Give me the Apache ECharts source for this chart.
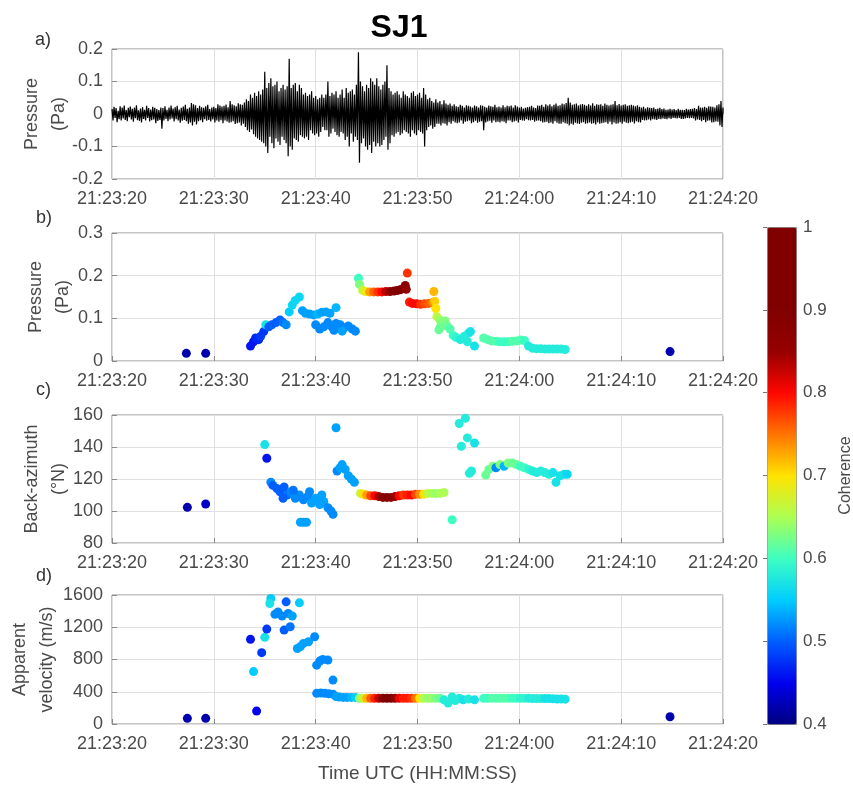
<!DOCTYPE html>
<html><head><meta charset="utf-8">
<script src="https://cdn.jsdelivr.net/npm/echarts@6/dist/echarts.min.js"></script>
<style>html,body{margin:0;padding:0;background:#fff}#c{width:853px;height:787px}</style>
</head><body><div id="c"></div>
<script>
// ---- tick labels (seconds after 21:23:20) ----
const timeTickLabels = ['21:23:20','21:23:30','21:23:40','21:23:50','21:24:00','21:24:10','21:24:20'];
const colorbarTicks = [0.4,0.5,0.6,0.7,0.8,0.9,1];

// ---- panel a: pressure waveform (Pa), sampled every 0.1 s from 21:23:20 ----
const waveStart = 0;
const waveInterval = 0.1;
const pressureWave = [
.015,-.02,.022,-.012,.018,-.025,.01,-.016,.024,-.02,
.02,-.014,.026,-.018,.012,-.022,.019,-.01,.023,-.017,
.016,-.024,.02,-.013,.027,-.019,.011,-.021,.017,-.026,
.021,-.015,.013,-.02,.025,-.012,.018,-.023,.014,-.019,
.022,-.017,.019,-.028,.015,-.021,.012,-.018,.02,-.045,
.018,-.02,.024,-.015,.013,-.022,.02,-.017,.026,-.014,
.017,-.023,.021,-.016,.025,-.02,.014,-.027,.019,-.021,
.023,-.018,.028,-.022,.016,-.03,.02,-.026,.034,-.035,
.03,-.024,.027,-.032,.018,-.022,.025,-.019,.021,-.025,
.019,-.016,.024,-.021,.028,-.018,.015,-.023,.02,-.017,
.022,-.026,.018,-.02,.03,-.024,.026,-.019,.023,-.028,
.025,-.02,.029,-.023,.021,-.027,.04,-.025,.03,-.022,
.027,-.031,.024,-.028,.033,-.026,.03,-.035,.028,-.03,
.035,-.04,.045,-.05,.04,-.055,.06,-.048,.05,-.062,
.065,-.07,.055,-.075,.07,-.08,.06,-.085,.075,-.09,
.13,-.1,.08,-.12,.095,-.07,.11,-.09,.085,-.105,
.09,-.075,.1,-.085,.07,-.095,.08,-.07,.09,-.08,
.075,-.09,.085,-.13,.17,-.1,.08,-.11,.09,-.075,
.095,-.08,.07,-.085,.09,-.065,.08,-.07,.06,-.075,
.065,-.07,.055,-.08,.06,-.05,.07,-.06,.05,-.065,
.055,-.06,.045,-.07,.05,-.055,.06,-.04,.05,-.05,
.06,-.05,.1,-.07,.055,-.06,.065,-.045,.06,-.055,
.07,-.065,.05,-.07,.06,-.055,.075,-.06,.05,-.08,
.08,-.07,.065,-.1,.07,-.06,.075,-.085,.06,-.07,
.09,-.08,.19,-.15,.1,-.09,.085,-.075,.07,-.1,
.09,-.11,.08,-.095,.11,-.12,.1,-.085,.09,-.1,
.11,-.09,.085,-.1,.075,-.095,.09,-.08,.1,-.07,
.15,-.11,.08,-.09,.07,-.065,.06,-.07,.065,-.06,
.07,-.055,.06,-.065,.05,-.06,.07,-.05,.06,-.055,
.055,-.06,.05,-.07,.065,-.05,.07,-.06,.055,-.065,
.06,-.05,.065,-.055,.05,-.06,.08,-.1,.06,-.05,
.045,-.04,.05,-.035,.04,-.045,.035,-.04,.045,-.03,
.035,-.03,.04,-.035,.03,-.028,.042,-.03,.032,-.035,
.028,-.025,.032,-.03,.025,-.022,.03,-.026,.024,-.028,
.022,-.026,.028,-.02,.025,-.03,.02,-.024,.027,-.022,
.025,-.02,.023,-.028,.02,-.025,.026,-.021,.024,-.027,
.02,-.024,.027,-.022,.025,-.05,.022,-.026,.02,-.023,
.026,-.021,.024,-.027,.022,-.02,.028,-.025,.021,-.024,
.023,-.026,.02,-.022,.027,-.024,.021,-.028,.025,-.02,
.024,-.02,.026,-.025,.02,-.023,.027,-.021,.023,-.026,
.02,-.018,.022,-.02,.017,-.021,.019,-.016,.021,-.019,
.022,-.02,.025,-.018,.02,-.024,.018,-.021,.026,-.02,
.025,-.022,.028,-.026,.022,-.025,.03,-.024,.026,-.028,
.03,-.026,.024,-.03,.028,-.022,.032,-.027,.025,-.03,
.027,-.03,.032,-.025,.03,-.028,.034,-.03,.05,-.035,
.035,-.03,.028,-.033,.03,-.027,.032,-.029,.026,-.031,
.029,-.027,.031,-.025,.028,-.03,.025,-.028,.03,-.026,
.026,-.03,.033,-.028,.025,-.032,.03,-.026,.028,-.03,
.03,-.028,.025,-.027,.032,-.025,.028,-.03,.026,-.024,
.028,-.032,.03,-.026,.04,-.03,.027,-.029,.031,-.025,
.026,-.03,.028,-.024,.03,-.027,.025,-.028,.027,-.026,
.028,-.024,.026,-.029,.024,-.022,.027,-.025,.022,-.026,
.02,-.018,.022,-.02,.017,-.019,.021,-.017,.019,-.02,
.018,-.016,.02,-.017,.015,-.018,.017,-.015,.019,-.016,
.015,-.014,.017,-.015,.013,-.016,.014,-.013,.016,-.015,
.014,-.012,.015,-.013,.012,-.014,.016,-.012,.013,-.015,
.013,-.015,.012,-.014,.016,-.012,.014,-.013,.015,-.012,
.016,-.014,.018,-.02,.015,-.017,.025,-.018,.02,-.022,
.02,-.018,.022,-.025,.019,-.021,.024,-.02,.023,-.026,
.022,-.025,.02,-.023,.027,-.024,.03,-.035,.04,-.04,
.02
];

// ---- panel b: [time s, pressure Pa, coherence] ----
const pressurePoints = [
[7.3,.018,.42],[9.2,.018,.42],
[13.6,.035,.46],[13.9,.045,.46],[14.1,.054,.47],[14.4,.05,.47],[14.6,.058,.48],[14.9,.069,.48],[15.1,.085,.57],[15.4,.08,.5],[15.7,.085,.5],[16.1,.09,.5],[16.5,.096,.5],[16.8,.09,.51],[17.1,.085,.52],[17.4,.115,.55],[17.7,.131,.56],[18.0,.142,.56],[18.4,.15,.56],
[18.7,.118,.53],[19.0,.112,.53],[19.4,.11,.53],[19.8,.108,.53],[20.2,.11,.54],[20.6,.114,.53],[21.0,.115,.53],[21.4,.112,.53],[22.0,.125,.54],
[20.0,.085,.52],[20.4,.075,.52],[20.8,.08,.52],[21.2,.09,.52],[21.6,.08,.52],[22.0,.088,.52],[22.4,.085,.52],[22.8,.078,.52],[23.2,.082,.52],[23.6,.075,.52],[23.9,.07,.52],[21.8,.072,.52],[22.6,.07,.53],
[24.2,.194,.6],[24.3,.18,.63],[24.6,.166,.66],[24.9,.163,.69],[25.3,.162,.73],[25.7,.162,.76],[26.1,.162,.78],[26.5,.162,.8],[26.9,.163,.83],[27.3,.163,.86],[27.7,.164,.9],[28.0,.165,.93],[28.3,.167,.93],[28.6,.17,.9],[28.8,.177,.88],[28.9,.168,.86],[29.0,.206,.78],
[29.2,.138,.79],[29.5,.135,.8],[29.9,.134,.8],[30.3,.133,.78],[30.7,.134,.77],[31.1,.135,.76],[31.5,.137,.74],[31.6,.163,.72],[31.7,.14,.71],[31.8,.123,.7],
[31.9,.104,.66],[32.2,.096,.64],[32.4,.088,.63],[32.7,.094,.63],[32.2,.078,.62],[32.1,.073,.62],[32.9,.082,.62],[33.2,.075,.61],[33.5,.06,.6],[33.8,.055,.59],[34.2,.05,.58],[34.6,.058,.58],[35.0,.065,.58],[35.2,.069,.57],[34.9,.045,.58],[35.6,.035,.57],
[36.5,.054,.61],[36.9,.05,.61],[37.3,.047,.61],[37.7,.046,.61],[38.1,.045,.6],[38.5,.045,.6],[38.9,.045,.6],[39.3,.046,.61],[39.7,.047,.61],[40.1,.049,.61],[40.5,.048,.6],
[40.9,.035,.58],[41.3,.03,.58],[41.7,.029,.58],[42.1,.029,.58],[42.5,.028,.58],[42.9,.028,.58],[43.3,.028,.58],[43.7,.028,.58],[44.1,.028,.58],[44.5,.027,.58],
[54.8,.022,.42]
];

// ---- panel c: [time s, back-azimuth deg, coherence] ----
const backAzimuthPoints = [
[7.4,102.3,.42],[9.2,104.4,.43],
[15.0,141.5,.57],[15.2,133,.46],[15.6,118,.52],[15.8,116,.5],[16.2,114,.5],[16.5,112,.5],[16.9,115,.5],[17.2,110,.51],[17.6,112,.52],[18.0,108,.52],[18.4,110,.52],[18.8,107,.52],[19.2,109,.52],[19.6,105,.53],[20.0,108,.53],[20.4,104,.53],[20.8,106,.53],[21.2,102,.52],[21.5,100,.52],[21.7,98,.52],[17.8,113,.51],[19.4,112,.52],[20.6,110,.53],[16.8,108,.5],
[18.5,93,.53],[18.8,93,.53],[19.1,93,.53],
[22.0,152,.53],[22.1,125,.52],[22.4,127,.53],[22.6,129,.53],[22.9,126,.53],[23.2,122,.53],[23.5,120,.53],[23.8,118,.53],
[24.4,111,.67],[24.7,110.5,.7],[25.0,110,.73],[25.4,109.5,.77],[25.8,109.5,.8],[26.2,109,.84],[26.6,108.5,.88],[27.0,108.5,.9],[27.4,108.5,.88],[27.8,109,.85],[28.2,109.5,.8],[28.6,110,.78],[29.0,110,.79],[29.4,110,.8],[29.8,110.5,.77],[30.2,110.5,.74],[30.6,110.5,.7],[31.0,111,.66],[31.4,111,.65],[31.8,111,.64],[32.2,111,.65],[32.6,111.5,.65],
[33.4,94.5,.6],[34.1,154.7,.58],[34.7,158,.58],[34.3,140.4,.58],[34.9,145.7,.58],[35.6,142.5,.57],[35.1,123.6,.58],[35.3,125,.58],
[36.7,122.5,.62],[37.0,126,.62],[37.4,128,.63],[37.7,127,.52],[38.1,129,.63],[38.5,128,.54],[38.9,130,.63],[39.3,130,.62],[39.7,129,.62],[40.1,128,.6],[40.5,127,.6],[40.9,126,.59],[41.3,125,.58],[41.7,124,.58],[42.1,125,.58],[42.5,124,.58],[42.9,123,.58],[43.3,124,.57],[43.6,118,.57],[44.0,122,.57],[44.4,123,.57],[44.7,123,.56]
];

// ---- panel d: [time s, apparent velocity m/s, coherence] ----
const velocityPoints = [
[7.4,70,.42],[9.2,70,.42],
[13.6,1050,.46],[13.9,650,.55],[14.2,160,.45],[14.7,885,.48],[15.0,1075,.57],[15.2,1177,.48],[15.6,1557,.55],[15.5,1495,.57],[16.3,1390,.52],[16.0,1360,.52],[17.1,1515,.5],[16.7,1340,.52],[17.3,1370,.52],[17.7,1340,.53],[18.4,1503,.55],[16.9,1165,.5],[17.5,1206,.51],[18.2,937,.53],[18.5,960,.53],[18.8,1000,.53],[19.3,1020,.53],[19.9,1082,.52],[20.1,730,.52],[20.4,780,.52],[20.7,800,.52],[21.2,793,.52],[21.7,545,.52],
[20.1,380,.52],[20.5,385,.52],[20.9,380,.52],[21.3,375,.52],[21.7,370,.52],[22.0,340,.53],[22.3,335,.53],[22.7,330,.53],[23.1,330,.53],[23.5,330,.54],[23.9,330,.55],
[24.3,320,.63],[24.6,320,.67],[25.0,318,.72],[25.4,318,.76],[25.8,318,.79],[26.2,318,.83],[26.6,318,.88],[27.0,318,.9],[27.4,318,.9],[27.8,318,.86],[28.2,318,.81],[28.6,318,.79],[29.0,318,.79],[29.4,318,.78],[29.8,318,.75],[30.2,318,.7],[30.6,318,.65],[31.0,318,.64],[31.4,318,.64],[31.8,318,.63],[32.2,318,.62],
[32.6,300,.58],[33.0,260,.58],[33.4,335,.58],[33.7,290,.58],[34.1,320,.58],[34.5,300,.57],[35.0,310,.58],[35.6,300,.57],
[36.5,318,.6],[36.9,320,.6],[37.3,320,.61],[37.7,320,.61],[38.1,320,.61],[38.5,320,.61],[38.9,320,.61],[39.3,320,.6],[39.7,320,.6],[40.1,320,.59],[40.5,318,.59],[40.9,318,.58],[41.3,315,.58],[41.7,315,.58],[42.1,315,.58],[42.5,315,.57],[42.9,315,.57],[43.3,312,.57],[43.7,310,.57],[44.1,310,.57],[44.5,308,.57],
[54.8,90,.42]
];

// jet-like colormap (0.4 .. 1.0 in steps of 0.05)
const jetColors = ['#000080','#0000EE','#005EFF','#00CDFF','#3DFFC2','#ACFF53','#FFE300','#FF7500','#FF0600','#960000','#800000','#800000','#800000'];

const FONT = "'Liberation Sans', Arial, Helvetica, sans-serif";
const LBL = '#4a4a4a';
const chart = echarts.init(document.getElementById('c'), null, {renderer:'canvas'});

const panels = [
  {top:49, height:130},
  {top:233, height:128},
  {top:415, height:128},
  {top:595, height:129}
];
const grids = panels.map(p => ({left:112, width:611, top:p.top, height:p.height, show:true, borderColor:'#8a8a8a', borderWidth:1, backgroundColor:'#fff', containLabel:false, outerBoundsMode:'none'}));
grids.push({left:767, width:29, top:227, height:497, show:false, containLabel:false, outerBoundsMode:'none'});

function xAxisFor(i){
  return {
    type:'value', gridIndex:i, min:0, max:60, interval:10,
    axisLine:{show:false},
    axisTick:{show:true, inside:true, length:5, lineStyle:{color:'#8a8a8a'}},
    splitLine:{show:true, lineStyle:{color:'#e0e0e0', width:1}},
    axisLabel:{color:LBL, fontSize:18, fontFamily:FONT, margin:11, hideOverlap:false,
      formatter: v => timeTickLabels[Math.round(v/10)]},
    name: i===3 ? 'Time UTC (HH:MM:SS)' : '',
    nameLocation:'middle', nameGap:40, nameMoveOverlap:false,
    nameTextStyle:{color:LBL, fontSize:19, fontFamily:FONT}
  };
}
function yAxisFor(i, min, max, interval, name, gap){
  return {
    type:'value', gridIndex:i, min, max, interval,
    axisLine:{show:false},
    axisTick:{show:true, inside:true, length:5, lineStyle:{color:'#8a8a8a'}},
    splitLine:{show:true, lineStyle:{color:'#e0e0e0', width:1}},
    axisLabel:{color:LBL, fontSize:18, fontFamily:FONT, margin:9, formatter: v => String(v)},
    name, nameLocation:'middle', nameRotate:90, nameGap:gap, nameMoveOverlap:false,
    nameTextStyle:{color:LBL, fontSize:18, fontFamily:FONT, lineHeight:27, align:'center'}
  };
}

const xAxes = [0,1,2,3].map(xAxisFor);
xAxes.push({type:'value', gridIndex:4, min:0, max:1, show:false});
const yAxes = [
  yAxisFor(0, -0.2, 0.2, 0.1, 'Pressure\n(Pa)', 39),
  yAxisFor(1, 0, 0.3, 0.1, 'Pressure\n(Pa)', 35),
  yAxisFor(2, 80, 160, 20, 'Back-azimuth\n(°N)', 39),
  yAxisFor(3, 0, 1600, 400, 'Apparent\nvelocity (m/s)', 51),
  {type:'value', gridIndex:4, position:'right', min:colorbarTicks[0], max:colorbarTicks[colorbarTicks.length-1], interval:0.1,
   axisLine:{show:false}, splitLine:{show:false},
   axisTick:{show:true, inside:true, length:4, lineStyle:{color:'#777'}},
   axisLabel:{color:LBL, fontSize:17, fontFamily:FONT, margin:7},
   name:'Coherence', nameLocation:'middle', nameRotate:90, nameGap:42, nameMoveOverlap:false,
   nameTextStyle:{color:LBL, fontSize:16, fontFamily:FONT}}
];

const scatterStyle = (i, data) => ({
  type:'scatter', xAxisIndex:i, yAxisIndex:i, data, symbolSize:9,
  itemStyle:{opacity:1}, silent:true
});

chart.setOption({
  animation:false,
  textStyle:{fontFamily:FONT},
  grid:grids,
  xAxis:xAxes,
  yAxis:yAxes,
  visualMap:{
    type:'continuous', min:0.4, max:1, dimension:2, seriesIndex:[1,2,3],
    inRange:{color:jetColors}, calculable:false, show:true,
    left:767, top:227, itemWidth:29, itemHeight:497, padding:0,
    borderColor:'#8a8a8a', borderWidth:1, hoverLink:false
  },
  graphic:[
    {type:'text', x:399, y:12, style:{text:'SJ1', fontSize:32, fontWeight:'bold', fill:'#000', fontFamily:FONT, align:'center'}},
    {type:'text', left:35, top:31, style:{text:'a)', fontSize:18, fill:'#333', fontFamily:FONT}},
    {type:'text', left:36, top:209, style:{text:'b)', fontSize:18, fill:'#333', fontFamily:FONT}},
    {type:'text', left:36, top:381, style:{text:'c)', fontSize:18, fill:'#333', fontFamily:FONT}},
    {type:'text', left:36, top:567, style:{text:'d)', fontSize:18, fill:'#333', fontFamily:FONT}}
  ],
  series:[
    {type:'line', xAxisIndex:0, yAxisIndex:0, showSymbol:false, symbol:'none', sampling:null,
     lineStyle:{color:'#000', width:1.2}, silent:true,
     data: pressureWave.map((v,k)=>[waveStart + k*waveInterval, v])},
    scatterStyle(1, pressurePoints),
    scatterStyle(2, backAzimuthPoints),
    scatterStyle(3, velocityPoints),
    {type:'scatter', xAxisIndex:4, yAxisIndex:4, data:[]}
  ]
});
</script></body></html>
